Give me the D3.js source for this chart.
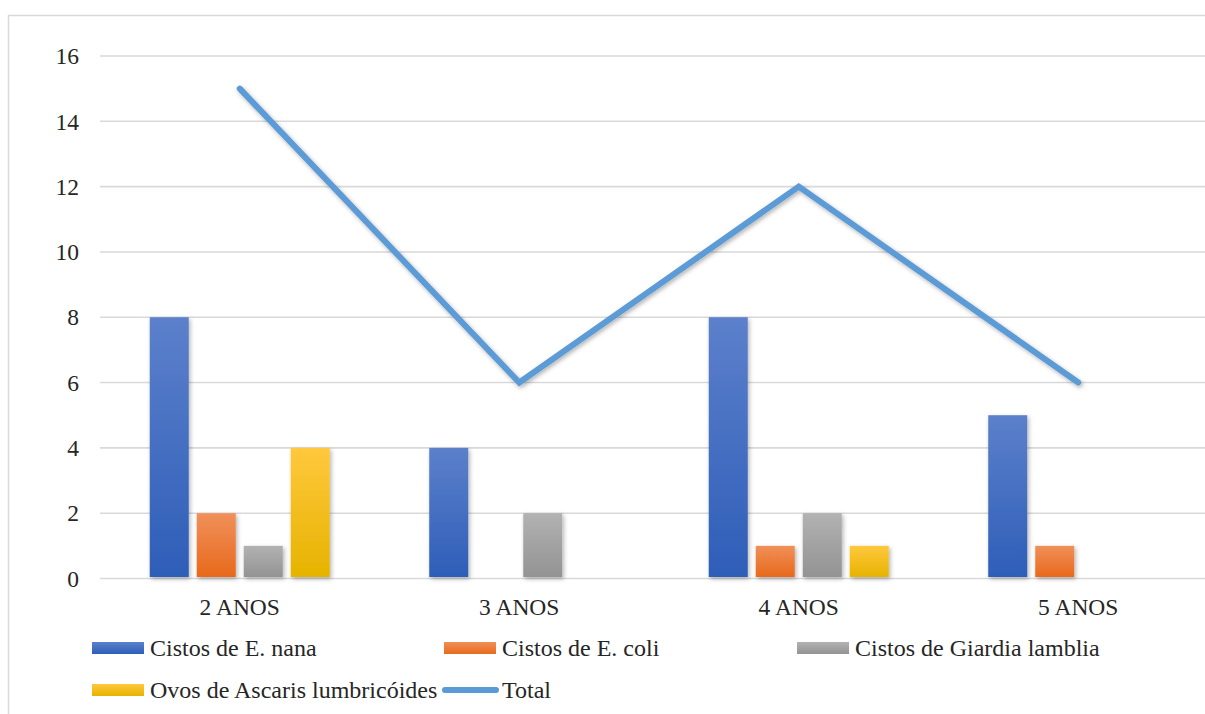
<!DOCTYPE html>
<html>
<head>
<meta charset="utf-8">
<script src="https://cdn.jsdelivr.net/npm/d3@7"></script>
<style>
  html, body { margin: 0; padding: 0; background: #fff; }
  svg { display: block; }
</style>
</head>
<body>
<svg id="chart" width="1205" height="714"></svg>
<script>
// Age groups and parasite counts
const categories = ["2 ANOS", "3 ANOS", "4 ANOS", "5 ANOS"];
const seriesNames = ["Cistos de E. nana", "Cistos de E. coli", "Cistos de Giardia lamblia", "Ovos de Ascaris lumbricóides"];
const eNana = [8, 4, 8, 5];
const eColi = [2, 0, 1, 1];
const giardia = [1, 2, 2, 0];
const ascaris = [4, 0, 1, 0];
const total = [15, 6, 12, 6];
const yTicks = [0, 2, 4, 6, 8, 10, 12, 14, 16];

const seriesValues = [eNana, eColi, giardia, ascaris];
const gradStops = [
  ["#5c80cb", "#2e5eb8"],
  ["#f0905a", "#e8691b"],
  ["#b2b2b2", "#939393"],
  ["#ffc83d", "#e6b300"]
];
const lineColor = "#5b9bd5";
const FONT = '"Liberation Serif", serif';

const svg = d3.select("#chart");
const defs = svg.append("defs");

gradStops.forEach((s, i) => {
  const g = defs.append("linearGradient")
    .attr("id", "grad" + i).attr("x1", 0).attr("y1", 0).attr("x2", 0).attr("y2", 1);
  g.append("stop").attr("offset", "0%").attr("stop-color", s[0]);
  g.append("stop").attr("offset", "100%").attr("stop-color", s[1]);
});

const shadow = defs.append("filter").attr("id", "shadow")
  .attr("x", "-20%").attr("y", "-20%").attr("width", "140%").attr("height", "140%");
shadow.append("feDropShadow").attr("dx", 1.5).attr("dy", 2)
  .attr("stdDeviation", 2).attr("flood-color", "#000").attr("flood-opacity", 0.3);

// Chart frame
svg.append("rect")
  .attr("x", 8.5).attr("y", 15.5).attr("width", 1300).attr("height", 800)
  .attr("fill", "none").attr("stroke", "#d9d9d9").attr("stroke-width", 1.5);

const x0 = d3.scaleBand().domain(categories).range([100, 1218]);
const x1 = d3.scaleBand().domain(d3.range(4)).range([-94, 94])
  .paddingInner(0.17).paddingOuter(0.085);
const y = d3.scaleLinear().domain([0, 16]).range([578.5, 56]);

const cx = c => x0(c) + x0.bandwidth() / 2;

// Gridlines
svg.append("g").selectAll("line").data(yTicks).join("line")
  .attr("x1", 100).attr("x2", 1218)
  .attr("y1", d => y(d)).attr("y2", d => y(d))
  .attr("stroke", "#d9d9d9").attr("stroke-width", 1.6);

const addText = (sel, size) => sel
  .style("font-family", FONT).style("font-size", size + "px").attr("fill", "#262626");

// Y tick labels
svg.append("g").selectAll("text").data(yTicks).join("text")
  .attr("x", 79).attr("y", d => y(d)).attr("dy", "0.35em")
  .attr("text-anchor", "end")
  .call(addText, 23.5)
  .text(d => d);

// Bars
const barsG = svg.append("g").attr("filter", "url(#shadow)");
seriesValues.forEach((vals, si) => {
  barsG.append("g").selectAll("rect").data(categories.map((c, i) => ({ c, v: vals[i] })).filter(d => d.v > 0))
    .join("rect")
    .attr("x", d => cx(d.c) + x1(si))
    .attr("width", x1.bandwidth())
    .attr("y", d => y(d.v))
    .attr("height", d => y(0) - 1.5 - y(d.v))
    .attr("fill", `url(#grad${si})`);
});

// X axis labels
svg.append("g").selectAll("text").data(categories).join("text")
  .attr("x", d => cx(d)).attr("y", 607).attr("dy", "0.35em")
  .attr("text-anchor", "middle")
  .call(addText, 23.5)
  .text(d => d);

// Total line
const line = d3.line().x((d, i) => cx(categories[i])).y(d => y(d));
svg.append("path").datum(total)
  .attr("d", line).attr("fill", "none")
  .attr("stroke", lineColor).attr("stroke-width", 6)
  .attr("stroke-linecap", "round").attr("stroke-linejoin", "miter")
  .attr("filter", "url(#shadow)");

// Legend
const legendItems = [
  { name: seriesNames[0], type: "bar", i: 0, x: 92, y: 648 },
  { name: seriesNames[1], type: "bar", i: 1, x: 444, y: 648 },
  { name: seriesNames[2], type: "bar", i: 2, x: 797, y: 648 },
  { name: seriesNames[3], type: "bar", i: 3, x: 92, y: 690 },
  { name: "Total", type: "line", x: 444, y: 690 }
];
const lg = svg.append("g");
legendItems.forEach(it => {
  if (it.type === "bar") {
    lg.append("rect").attr("x", it.x).attr("y", it.y - 6).attr("width", 52).attr("height", 12)
      .attr("fill", `url(#grad${it.i})`);
  } else {
    lg.append("line").attr("x1", it.x + 1).attr("x2", it.x + 52)
      .attr("y1", it.y).attr("y2", it.y)
      .attr("stroke", lineColor).attr("stroke-width", 6).attr("stroke-linecap", "round");
  }
  lg.append("text").attr("x", it.x + 58).attr("y", it.y).attr("dy", "0.35em")
    .call(addText, 24).text(it.name);
});
</script>
</body>
</html>
